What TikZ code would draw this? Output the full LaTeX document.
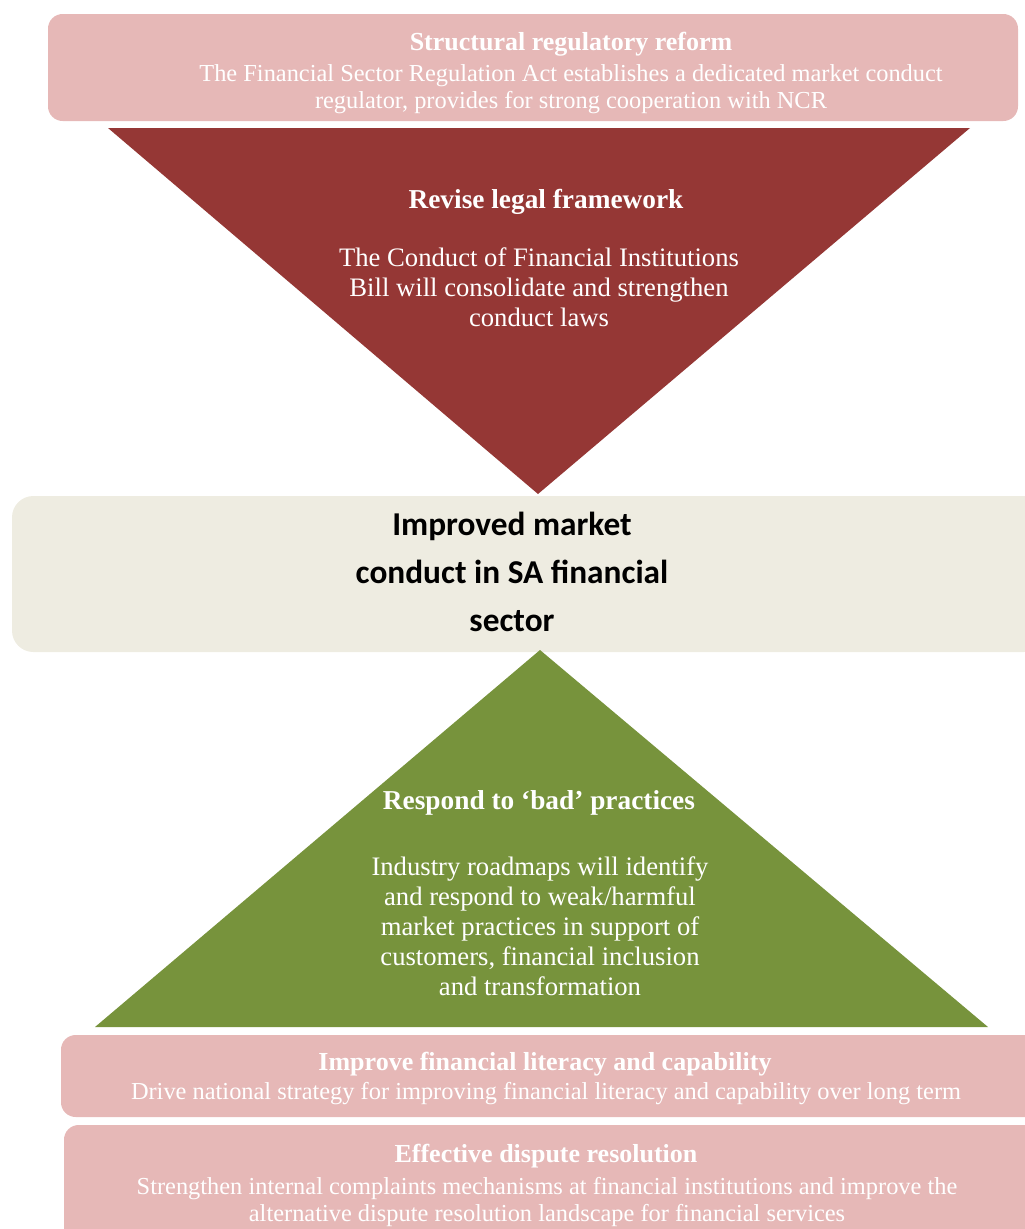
\documentclass[tikz,border=0pt]{standalone}
\usepackage{fontspec}
\setmainfont{Liberation Serif}
\newfontfamily\boldsans{Carlito}
\usepackage{tikz}

\definecolor{pinkbox}{HTML}{E6B8B7}
\definecolor{redtri}{HTML}{953735}
\definecolor{greentri}{HTML}{77933C}
\definecolor{beige}{HTML}{EEECE1}

\begin{document}
\begin{tikzpicture}[x=0.75pt,y=-0.75pt,
    boxhead/.style={text=white,align=center,font=\bfseries\fontsize{19.5}{21}\selectfont},
    boxtext/.style={text=white,align=center,font=\fontsize{18.3}{20.5}\selectfont},
    trihead/.style={text=white,align=center,font=\bfseries\fontsize{20.5}{22.5}\selectfont},
    tritext/.style={text=white,align=center,font=\fontsize{20}{22.5}\selectfont}]
    \useasboundingbox (0,0) rectangle (1025,1229);
    \clip (0,0) rectangle (1025,1229);

    % bands and triangles
    \fill[pinkbox,rounded corners=11] (48,14) rectangle (1018,121);
    \fill[redtri] (108,128) -- (970,128) -- (538,494) -- cycle;
    \fill[beige,rounded corners=16] (12,496) rectangle (1045,652);
    \fill[greentri] (540,650) -- (988,1027) -- (95,1027) -- cycle;
    \fill[pinkbox,rounded corners=11] (61,1035) rectangle (1045,1117);
    \fill[pinkbox,rounded corners=11] (64,1125) rectangle (1045,1260);

    % texts
    \node[boxhead] (reformhead) at (571,44) {Structural regulatory reform};
    \node[boxtext] (reform) at (571,89)
       {The Financial Sector Regulation Act establishes a dedicated market conduct\\
        regulator, provides for strong cooperation with NCR};
    \node[trihead] (legalhead) at (546,202) {Revise legal framework};
    \node[tritext] (legal) at (539,287)
       {The Conduct of Financial Institutions\\
        Bill will consolidate and strengthen\\
        conduct laws};
    \node[align=center,font=\boldsans\bfseries\fontsize{25}{36}\selectfont] (outcome) at (512,572)
       {Improved market\\ conduct in SA financial\\ sector};
    \node[trihead] (practiceshead) at (539,803) {Respond to ‘bad’ practices};
    \node[tritext] (practices) at (540,926)
       {Industry roadmaps will identify\\
        and respond to weak/harmful\\
        market practices in support of\\
        customers, financial inclusion\\
        and transformation};
    \node[boxhead] (literacyhead) at (545,1064) {Improve financial literacy and capability};
    \node[boxtext] (literacy) at (546,1094)
       {Drive national strategy for improving financial literacy and capability over long term};
    \node[boxhead] (disputehead) at (546,1156) {Effective dispute resolution};
    \node[boxtext] (dispute) at (547,1202)
       {Strengthen internal complaints mechanisms at financial institutions and improve the\\
        alternative dispute resolution landscape for financial services};
\end{tikzpicture}
\end{document}
